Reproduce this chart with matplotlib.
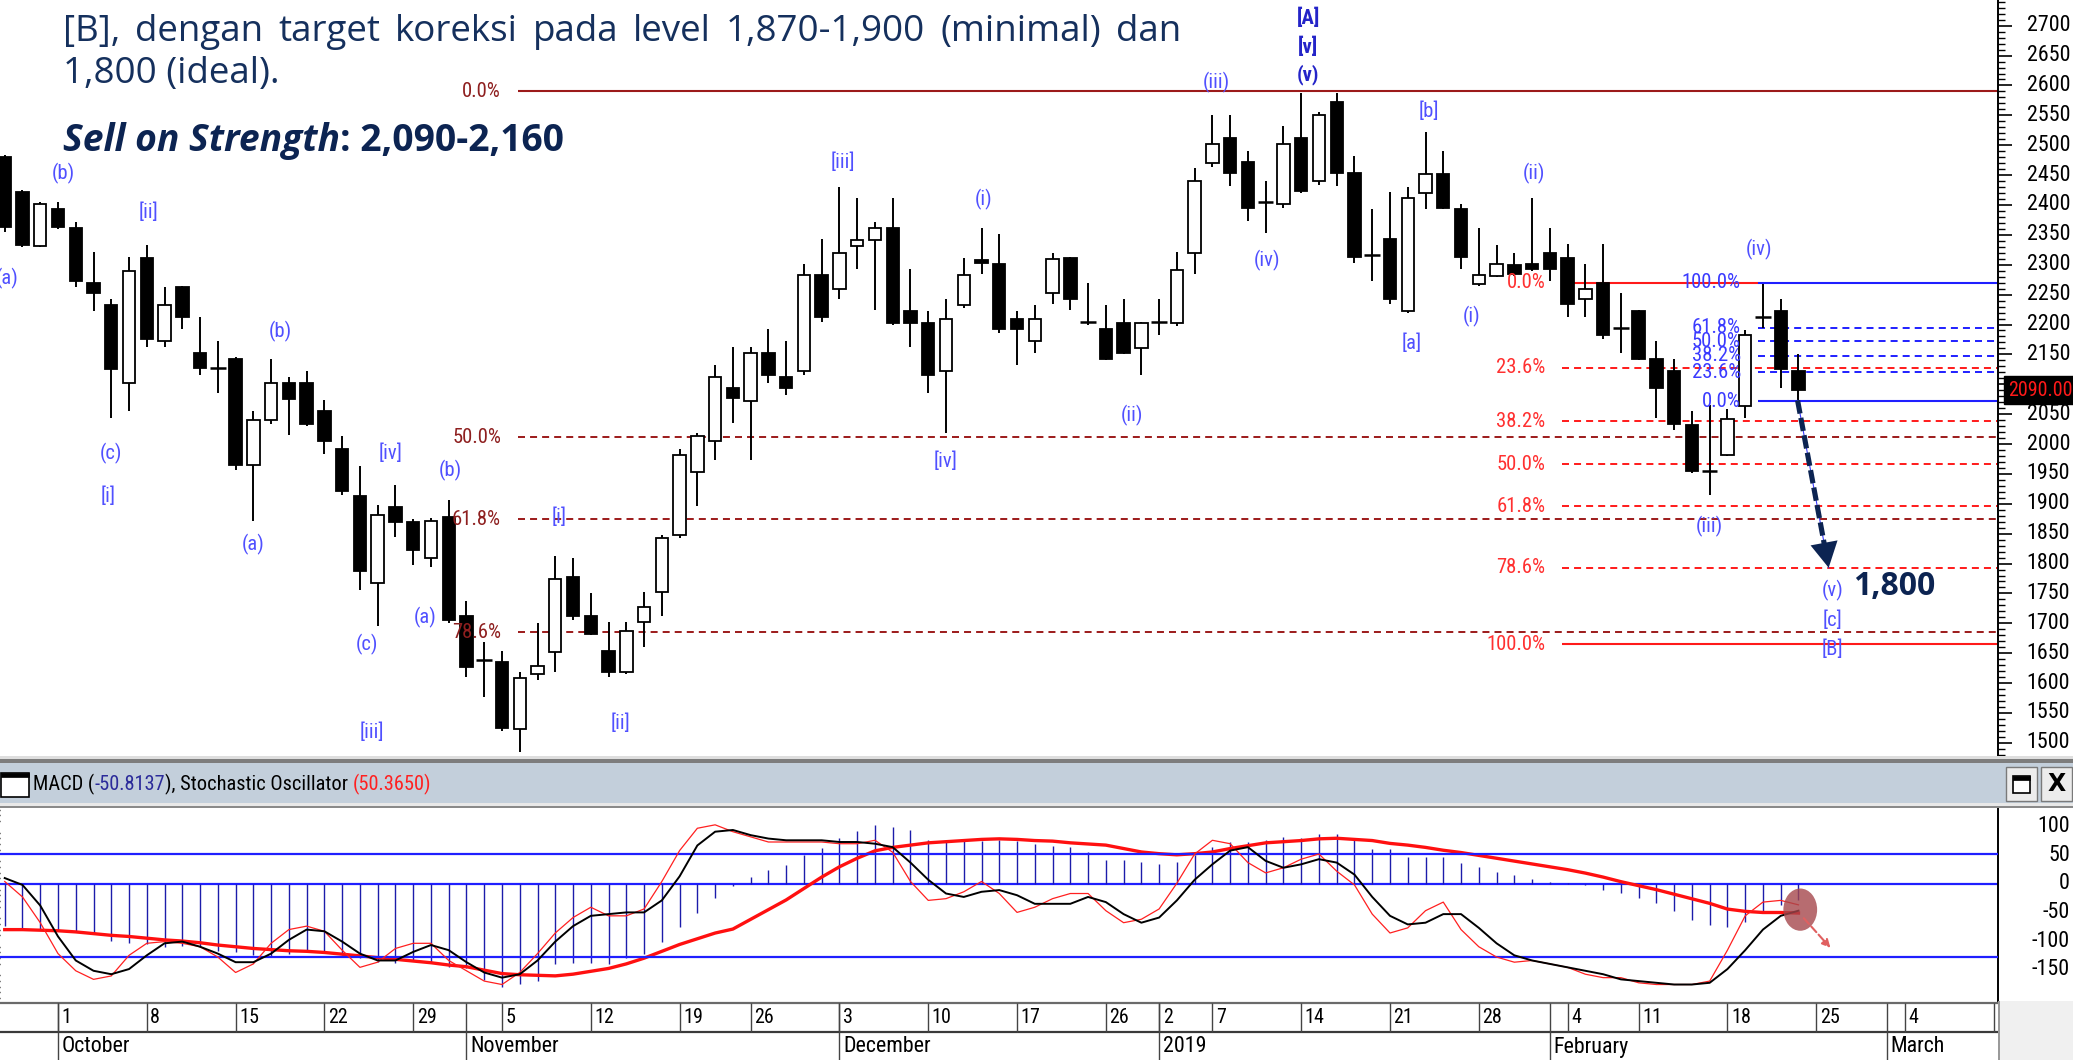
import matplotlib
matplotlib.use("Agg")
import matplotlib.pyplot as plt
import matplotlib.transforms as mtrans
from matplotlib import font_manager as fm
from matplotlib.patches import Rectangle, Ellipse, FancyArrowPatch
from matplotlib.ticker import MultipleLocator, FixedLocator, NullFormatter
import warnings
warnings.filterwarnings("ignore")

# ---------------- data ----------------
days = list(range(-3, 99))
opens = [2480, 2422, 2332, 2393, 2362, 2270, 2233, 2102, 2312, 2173,
         2262, 2152, 2127, 2142, 1965, 2040, 2102, 2102, 2055, 1992,
         1913, 1768, 1895, 1870, 1810, 1878, 1712, 1638, 1635, 1523,
         1615, 1652, 1778, 1713, 1653, 1618, 1703, 1753, 1847, 1953,
         2005, 2093, 2072, 2152, 2113, 2122, 2283, 2260, 2332, 2342,
         2362, 2223, 2202, 2122, 2233, 2308, 2302, 2210, 2172, 2252,
         2312, 2205, 2192, 2202, 2160, 2205, 2202, 2320, 2470, 2512,
         2472, 2405, 2402, 2512, 2440, 2572, 2453, 2317, 2343, 2223,
         2420, 2452, 2393, 2268, 2282, 2300, 2302, 2320, 2312, 2242,
         2270, 2195, 2223, 2142, 2123, 2032, 1955, 1982, 2063, 2213,
         2223, 2123]
highs = [2483, 2425, 2405, 2405, 2372, 2322, 2243, 2313, 2333, 2262,
         2265, 2212, 2173, 2145, 2055, 2143, 2113, 2123, 2073, 2013,
         1963, 1898, 1932, 1875, 1877, 1907, 1738, 1668, 1653, 1618,
         1700, 1813, 1810, 1750, 1703, 1702, 1753, 1848, 1992, 2018,
         2132, 2162, 2162, 2193, 2173, 2302, 2343, 2430, 2412, 2372,
         2412, 2293, 2223, 2243, 2312, 2362, 2352, 2223, 2233, 2320,
         2313, 2270, 2233, 2243, 2205, 2243, 2322, 2462, 2550, 2550,
         2490, 2440, 2532, 2588, 2555, 2588, 2482, 2393, 2422, 2430,
         2522, 2490, 2402, 2362, 2333, 2320, 2412, 2362, 2335, 2302,
         2335, 2252, 2225, 2173, 2142, 2055, 2065, 2058, 2190, 2268,
         2243, 2150]
lows = [2355, 2330, 2330, 2360, 2263, 2223, 2043, 2055, 2163, 2163,
        2193, 2115, 2085, 1957, 1872, 2033, 2015, 2030, 1983, 1915,
        1755, 1695, 1845, 1798, 1795, 1700, 1610, 1577, 1520, 1485,
        1605, 1618, 1705, 1680, 1610, 1615, 1660, 1713, 1843, 1897,
        1973, 2035, 1973, 2102, 2082, 2115, 2205, 2243, 2293, 2225,
        2200, 2162, 2085, 2018, 2228, 2285, 2185, 2133, 2153, 2235,
        2225, 2200, 2140, 2150, 2115, 2183, 2198, 2285, 2463, 2432,
        2373, 2353, 2395, 2420, 2433, 2432, 2303, 2272, 2235, 2220,
        2393, 2393, 2293, 2265, 2280, 2282, 2290, 2273, 2212, 2213,
        2175, 2153, 2140, 2043, 2023, 1952, 1915, 1980, 2043, 2195,
        2093, 2073]
closes = [2363, 2333, 2402, 2363, 2272, 2253, 2125, 2290, 2175, 2232,
          2213, 2127, 2127, 1965, 2040, 2102, 2075, 2033, 2005, 1922,
          1788, 1882, 1870, 1823, 1872, 1705, 1627, 1638, 1525, 1608,
          1628, 1775, 1713, 1682, 1618, 1687, 1728, 1843, 1982, 2013,
          2113, 2077, 2152, 2115, 2093, 2283, 2213, 2320, 2342, 2362,
          2203, 2203, 2115, 2210, 2283, 2303, 2193, 2193, 2210, 2310,
          2243, 2205, 2143, 2153, 2202, 2205, 2292, 2440, 2502, 2453,
          2395, 2405, 2502, 2423, 2550, 2453, 2313, 2317, 2243, 2412,
          2452, 2395, 2313, 2283, 2302, 2285, 2293, 2293, 2235, 2260,
          2183, 2195, 2143, 2093, 2033, 1955, 1955, 2042, 2183, 2213,
          2125, 2090]
last_price = 2090.00

macd_hist = [-74, -78, -80, -82,
             -85, -88, -100, -103, -106, -110, -108, -110, -118,
             -120, -124, -126, -122, -118, -120, -124, -130, -136, -138,
             -134, -138, -145, -148, -168, -180, -176, -170, -140, -138,
             -138, -140, -130, -122, -102, -75, -51, -25, -4, 12,
             25, 33, 51, 63, 81, 92, 103, 100, 94, 77,
             77, 75, 75, 77, 75, 70, 67, 64, 56, 42,
             42, 38, 35, 39, 51, 64, 74, 74, 77, 83,
             81, 87, 87, 77, 61, 61, 48, 48, 48, 37,
             30, 21, 16, 9, 4, 1, -1, -10, -16, -24,
             -33, -48, -63, -72, -75, -66, -51, -37, -28]
macd_line = [-80, -80, -81, -82,
             -84, -87, -90, -92, -95, -98, -100, -103, -107,
             -110, -113, -115, -117, -118, -120, -123, -126, -129, -132,
             -135, -138, -142, -145, -151, -157, -159, -160, -161, -158,
             -153, -148, -140, -130, -118, -106, -96, -86, -79, -62,
             -45, -28, -8, 12, 30, 45, 58, 64, 68, 72,
             74, 76, 78, 79, 78, 76, 75, 72, 70, 68,
             62, 56, 53, 51, 53, 56, 62, 67, 72, 74,
             76, 79, 80, 78, 76, 71, 68, 64, 59, 55,
             50, 45, 40, 35, 30, 25, 19, 12, 4, -3,
             -10, -18, -26, -34, -44, -48, -50, -50, -51]
stoch_k = [64, 55, 40, 22,
           12, 7, 9, 21, 28, 29, 28, 26, 20,
           11, 16, 28, 36, 38, 35, 24, 14, 17, 25,
           28, 28, 18, 12, 6, 4, 11, 22, 34, 43,
           49, 44, 44, 48, 64, 82, 95, 97, 93, 90,
           87, 87, 87, 87, 86, 86, 88, 81, 64, 53,
           54, 58, 64, 57, 46, 49, 54, 57, 57, 47,
           40, 42, 48, 63, 80, 88, 86, 75, 69, 72,
           77, 80, 70, 62, 45, 34, 37, 47, 52, 36,
           26, 20, 17, 18, 16, 14, 10, 8, 8, 5,
           4, 4, 4, 6, 24, 44, 52, 53, 50.4]
stoch_d = [66, 62, 50, 32,
           18, 12, 10, 13, 21, 28, 29, 26, 22,
           17, 17, 22, 30, 36, 35, 29, 22, 18, 18,
           23, 27, 24, 17, 11, 8, 10, 18, 29, 38,
           44, 45, 46, 46, 53, 67, 85, 93, 94, 91,
           89, 88, 88, 88, 87, 87, 86, 84, 75, 65,
           57, 55, 58, 59, 56, 51, 51, 51, 55, 52,
           45, 40, 43, 53, 65, 74, 82, 84, 76, 72,
           74, 77, 75, 68, 55, 44, 39, 40, 45, 45,
           37, 28, 21, 18, 16, 14, 12, 10, 7, 6,
           5, 4, 4, 5, 13, 24, 36, 44, 47]
macd_value = -50.8137
stoch_value = 50.3650

price_ticks = list(range(1500, 2701, 50))
macd_ticks = [100, 50, 0, -50, -100, -150]
stoch_levels = [80, 20]

date_tick_days = [0, 5, 10, 15, 20, 25, 30, 35, 39, 44, 49, 54, 59, 62, 65,
                  70, 75, 80, 85, 89, 94, 99, 104, 109]
date_tick_labels = ['1', '8', '15', '22', '29', '5', '12', '19', '26', '3', '10',
                    '17', '26', '2', '7', '14', '21', '28', '4', '11', '18', '25',
                    '4', '11']
month_days = [0, 23, 44, 62, 84, 103]
month_labels = ['October', 'November', 'December', '2019', 'February', 'March']

fib_dr_levels = [2590, 2011, 1874, 1685]
fib_dr_labels = ['0.0%', '50.0%', '61.8%', '78.6%']
fib_dr_start = 25.9
fib_r_levels = [2270, 2128, 2038, 1966, 1896, 1793, 1665]
fib_r_labels = ['0.0%', '23.6%', '38.2%', '50.0%', '61.8%', '78.6%', '100.0%']
fib_r_start = 84.7
fib_b_levels = [2270, 2195, 2172, 2148, 2120, 2072]
fib_b_labels = ['100.0%', '61.8%', '50.0%', '38.2%', '23.6%', '0.0%']
fib_b_start = 95.7

wave_text = ['(b)', '[ii]', '(a)', '(b)', '(c)', '[i]', '(a)', '[iv]', '(b)', '(c)',
             '(a)', '[iii]', '[i]', '[ii]', '[iii]', '(i)', '(iii)', '(iv)', '(ii)',
             '[iv]', '[b]', '(ii)', '[a]', '(i)', '(iv)', '(iii)', '(v)', '[c]', '[B]']
wave_day = [0.3, 5.1, -2.85, 12.5, 3.0, 2.8, 11.0, 18.7, 22.1, 17.4,
            20.7, 17.7, 28.2, 31.7, 44.2, 52.1, 65.2, 68.1, 60.5,
            50.0, 77.2, 83.1, 76.2, 79.6, 95.8, 93.0, 99.9, 99.9, 99.9]
wave_price = [2452, 2388, 2277, 2188, 1985, 1913, 1832, 1985, 1955, 1665,
              1710, 1518, 1878, 1532, 2472, 2410, 2605, 2307, 2048,
              1972, 2557, 2452, 2168, 2213, 2325, 1862, 1755, 1705, 1657]
top_wave_text = ['[A]', '[v]', '(v)']
top_wave_day = [70.4, 70.4, 70.4]
top_wave_price = [2713, 2665, 2618]

arrow_start = (97.95, 2073)
arrow_tip = (99.7, 1793)
target_label = '1,800'
target_pos = (101.1, 1762)

para_line1 = "[B], dengan target koreksi pada level 1,870-1,900 (minimal) dan"
para_line2 = "1,800 (ideal)."
sos_a = "Sell on Strength"
sos_b = ": 2,090-2,160"

# ---------------- fonts ----------------
_names = {f.name for f in fm.fontManager.ttflist}
if 'Liberation Sans Narrow' in _names:
    NF, SF = ['Liberation Sans Narrow', 'DejaVu Sans'], 1.0
elif 'Arial Narrow' in _names:
    NF, SF = ['Arial Narrow', 'DejaVu Sans'], 1.0
elif 'Roboto Condensed' in _names:
    NF, SF = ['Roboto Condensed', 'DejaVu Sans'], 0.93
else:
    NF, SF = ['Liberation Sans', 'DejaVu Sans'], 0.82
PARA = ['Open Sans', 'DejaVu Sans']
plt.rcParams['font.family'] = NF
FS_AXIS = 17 * SF
FS_FIB = 16 * SF
FS_WAVE = 16 * SF
FS_HDR = 15.8 * SF
FS_DATE = 15.5 * SF
FS_MONTH = 17 * SF
FS_BOX = 15.5 * SF

NAVY = '#15305d'
NAVY2 = '#0c2452'
WAVE = '#5050ff'
WAVE_DARK = '#2424c8'
DRED = '#9c1a1a'
BLUE = '#1f1fff'

W, H, DPI = 2073, 1060, 100
PLOT_R = 1998
MAIN_B = 756
IND_T, IND_B = 808, 1001
X0, DX = 58.0, 17.76
XLIM = (-X0 / DX, (PLOT_R - X0) / DX)
LABEL_RIGHT = 2070

fig = plt.figure(figsize=(W / DPI, H / DPI), dpi=DPI)
fig.patch.set_facecolor('white')
tpx = mtrans.Affine2D().scale(1.0 / W, -1.0 / H).translate(0, 1) + fig.transFigure


def frect(x0, y0, x1, y1):
    return [x0 / W, 1 - y1 / H, (x1 - x0) / W, (y1 - y0) / H]


def frect_patch(x0, y0, x1, y1, **kw):
    p = Rectangle((x0, y0), x1 - x0, y1 - y0, transform=tpx, **kw)
    fig.add_artist(p)
    return p


def right_axis(a, ticks, skip=()):
    for s in ('top', 'left', 'bottom'):
        a.spines[s].set_visible(False)
    a.spines['right'].set_linewidth(1.4)
    a.set_xticks([])
    a.yaxis.tick_right()
    a.yaxis.set_major_locator(FixedLocator(ticks))
    a.yaxis.set_minor_locator(MultipleLocator(10))
    a.yaxis.set_major_formatter(NullFormatter())
    a.tick_params(axis='y', which='major', length=10, width=1.2)
    a.tick_params(axis='y', which='minor', length=5, width=1.0)
    tr = mtrans.blended_transform_factory(a.transAxes, a.transData)
    xf = LABEL_RIGHT / PLOT_R
    for v in ticks:
        if v in skip:
            continue
        a.text(xf, v, f'{v}', transform=tr, ha='right', va='center',
               fontsize=FS_AXIS, clip_on=False)


# ---------------- main price panel ----------------
ax = fig.add_axes(frect(0, 0, PLOT_R, MAIN_B))
ax.set_xlim(*XLIM)
ax.set_ylim(1478, 2743)
right_axis(ax, price_ticks, skip=(2100,))

ax.vlines(days, lows, highs, color='black', lw=1.4, zorder=2)
BW = 0.70
for d, o, c in zip(days, opens, closes):
    if c == o:
        ax.hlines(o, d - 0.44, d + 0.44, color='black', lw=1.8, zorder=3)
    else:
        fc = 'white' if c > o else 'black'
        ax.add_patch(Rectangle((d - BW / 2, min(o, c)), BW, abs(c - o),
                               facecolor=fc, edgecolor='black', lw=1.3, zorder=3))


def draw_fib(levels, labels, start, lcol, tcol, zero_end=None):
    for lv, lb in zip(levels, labels):
        solid = lb in ('0.0%', '100.0%')
        xe = XLIM[1]
        if zero_end is not None and lb == '0.0%':
            xe = zero_end
        ax.plot([start, xe], [lv, lv], color=lcol, lw=1.5 if solid else 1.4,
                ls='-' if solid else (0, (3.6, 2.6)), zorder=1.5, solid_capstyle='butt')
        ax.text(start - 0.95, lv, lb, color=tcol, ha='right', va='center',
                fontsize=FS_FIB, zorder=6)


draw_fib(fib_dr_levels, fib_dr_labels, fib_dr_start, DRED, '#8e1f1f')
draw_fib(fib_r_levels, fib_r_labels, fib_r_start, '#ff1a1a', '#ff3030',
         zero_end=fib_b_start)
draw_fib(fib_b_levels, fib_b_labels, fib_b_start, BLUE, '#3a3aff')

for s, d, p in zip(wave_text, wave_day, wave_price):
    ax.text(d, p, s, color=WAVE, ha='center', va='center', fontsize=FS_WAVE, zorder=6)
for s, d, p in zip(top_wave_text, top_wave_day, top_wave_price):
    ax.text(d, p, s, color=WAVE_DARK, ha='center', va='center', fontsize=FS_WAVE,
            fontweight='bold', zorder=6)

# projected arrow
(xa, ya), (xt, yt) = arrow_start, arrow_tip
ax.plot([xa, xt], [ya, yt], color='#3a3aff', lw=0.8, zorder=6)
fr_line, fr_head = 0.88, 0.87
ax.plot([xa, xa + fr_line * (xt - xa)], [ya, ya + fr_line * (yt - ya)], color=NAVY2,
        lw=3.7, ls=(0, (2.6, 0.85)), zorder=7, solid_capstyle='butt')
ax.add_patch(FancyArrowPatch((xa + fr_head * (xt - xa), ya + fr_head * (yt - ya)), (xt, yt),
                             arrowstyle='-|>,head_length=0.7,head_width=0.38',
                             mutation_scale=26, color=NAVY2, lw=0, zorder=7,
                             shrinkA=0, shrinkB=0))
ax.text(target_pos[0], target_pos[1], target_label, ha='left', va='center',
        fontsize=23, fontweight='bold', family=PARA, color=NAVY2, zorder=7)

# last price box
ax.text(1.0 + 10.0 / PLOT_R, last_price, f'{last_price:.2f}',
        transform=mtrans.blended_transform_factory(ax.transAxes, ax.transData),
        ha='left', va='center', color='#ff1a1a', fontsize=FS_BOX,
        bbox=dict(boxstyle='square,pad=0.22', fc='black', ec='black'),
        zorder=10, clip_on=False)

# ---------------- separators / header ----------------
frect_patch(0, MAIN_B, W, MAIN_B + 3, fc='#dedede', ec='none')
frect_patch(0, MAIN_B + 3, W, 763, fc='#7d7d7d', ec='none')
frect_patch(0, 763, W, 803, fc='#c3cfdb', ec='none')
frect_patch(0, 803, W, 805.5, fc='#e8e8e8', ec='none')
frect_patch(0, 805.5, W, IND_T, fc='#8a8a8a', ec='none')
frect_patch(1, 773, 29, 797, fc='white', ec='black', lw=1.2)
frect_patch(1, 773, 29, 777, fc='black', ec='black', lw=0.5)
frect_patch(2006, 767, 2037, 801, fc='#ececec', ec='#7a7a7a', lw=1.0)
frect_patch(2013, 776, 2030, 793, fc='white', ec='black', lw=1.2)
frect_patch(2013, 776, 2030, 780, fc='black', ec='black', lw=0.5)
frect_patch(2041, 767, 2072, 801, fc='#ececec', ec='#7a7a7a', lw=1.0)
fig.text(2056.5, 784, 'X', transform=tpx, ha='center', va='center', fontsize=17,
         fontweight='bold', color='black', family=['DejaVu Sans'])

renderer = fig.canvas.get_renderer()
hdr = [("MACD (", 'black'), (f"{macd_value:.4f}", '#2b2b9a'),
       ("), Stochastic Oscillator ", 'black'), (f"({stoch_value:.4f})", '#ff2020')]
hx = 33
for s, col in hdr:
    t = fig.text(hx, 784, s, transform=tpx, ha='left', va='center', fontsize=FS_HDR, color=col)
    hx += t.get_window_extent(renderer).width

# ---------------- indicator panel ----------------
ai = fig.add_axes(frect(0, IND_T, PLOT_R, IND_B))
ai.set_xlim(*XLIM)
ai.set_ylim(-205, 133)
right_axis(ai, macd_ticks)
ai.axhline(0, color=BLUE, lw=1.6, zorder=1)
ai.vlines(days, 0, macd_hist, color='#1c1caa', lw=1.0, zorder=2)
ai.plot(days, macd_line, color='#ff1010', lw=2.4, zorder=3)

ast = ai.twinx()
ast.set_ylim(-5.6, 106.8)
ast.axis('off')
for lv in stoch_levels:
    ast.axhline(lv, color=BLUE, lw=1.6, zorder=1)
ast.plot(days, stoch_k, color='#ff2020', lw=0.9, zorder=3)
ast.plot(days, stoch_d, color='black', lw=1.4, zorder=4)
ast.add_patch(Ellipse((98.1, -45), 1.9, 74, transform=ai.transData,
                      fc='#a5474c', ec='none', alpha=0.8, zorder=6))
ast.annotate('', xy=(99.8, -112), xytext=(98.3, -60), xycoords=ai.transData,
             textcoords=ai.transData,
             arrowprops=dict(arrowstyle='-|>', color='#e06060', lw=1.5, ls='--',
                             mutation_scale=12, shrinkA=0, shrinkB=0), zorder=6)

# ---------------- date axis ----------------
axd = fig.add_axes(frect(0, IND_B, PLOT_R, H))
axd.set_xlim(*XLIM)
axd.set_ylim(H, IND_B)
axd.axis('off')
axd.axhline(IND_B + 1.5, color='#6a6a6a', lw=1.6)
axd.axhline(1032, color='#3a3a3a', lw=1.6)
axd.vlines(date_tick_days, IND_B + 2, 1032, color='#444444', lw=1.0)
for d, lb in zip(date_tick_days, date_tick_labels):
    axd.text(d + 0.2, 1017.5, lb, ha='left', va='center', fontsize=FS_DATE, clip_on=True)
axd.vlines(month_days, IND_B + 2, H, color='#444444', lw=1.0)
for d, lb in zip(month_days, month_labels):
    axd.text(d + 0.2, 1047, lb, ha='left', va='center', fontsize=FS_MONTH, clip_on=True)
frect_patch(PLOT_R, IND_B, W, H, fc='#f0f0f0', ec='none')
frect_patch(PLOT_R, IND_B, PLOT_R + 1.5, H, fc='#9a9a9a', ec='none')

# ---------------- report text ----------------
FS_PARA = 26.5
words = para_line1.split()
texts = [fig.text(0, 41, w, transform=tpx, fontsize=FS_PARA, family=PARA, color=NAVY,
                  va='baseline', ha='left') for w in words]
widths = [t.get_window_extent(renderer).width for t in texts]
gap = (1181 - 63 - sum(widths)) / (len(words) - 1)
xx = 63
for t, wd in zip(texts, widths):
    t.set_x(xx)
    xx += wd + gap
fig.text(63, 83, para_line2, transform=tpx, fontsize=FS_PARA, family=PARA, color=NAVY,
         va='baseline', ha='left')

ta = fig.text(63, 151, sos_a, transform=tpx, fontsize=25, family=PARA, style='italic',
              fontweight='bold', color=NAVY2, va='baseline', ha='left')
tb = fig.text(63, 151, sos_b, transform=tpx, fontsize=25, family=PARA,
              fontweight='bold', color=NAVY2, va='baseline', ha='left')
wtot = ta.get_window_extent(renderer).width + tb.get_window_extent(renderer).width
scale = 503.0 / wtot
ta.set_fontsize(25 * scale)
tb.set_fontsize(25 * scale)
tb.set_x(63 + ta.get_window_extent(renderer).width)

fig.savefig('out.png', dpi=DPI)
